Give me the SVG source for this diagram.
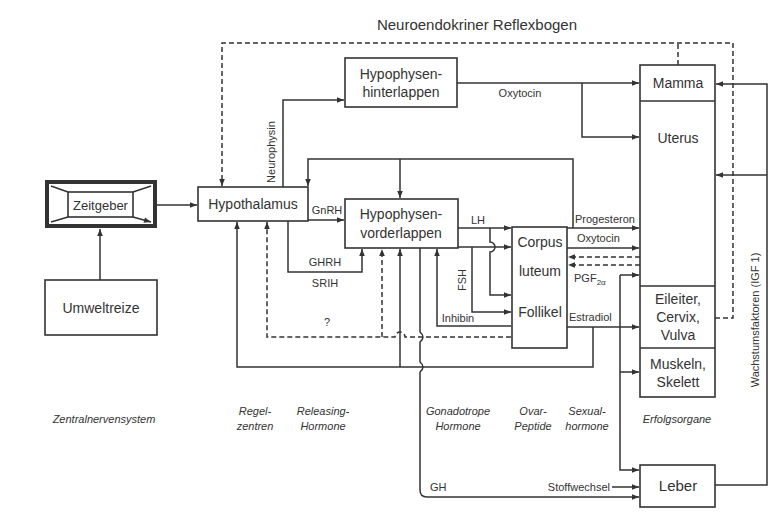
<svg xmlns="http://www.w3.org/2000/svg" width="776" height="516" viewBox="0 0 776 516">
<style>
.box{fill:#fff;stroke:#333;stroke-width:1.6}
.ln{fill:none;stroke:#333;stroke-width:1.5}
.ds{fill:none;stroke:#333;stroke-width:1.5;stroke-dasharray:5 3}
.t{font-family:"Liberation Sans",Arial,sans-serif;font-size:14px;fill:#333;text-anchor:middle}
.s{font-family:"Liberation Sans",Arial,sans-serif;font-size:11px;fill:#333}
.i{font-family:"Liberation Sans",Arial,sans-serif;font-size:11px;font-style:italic;fill:#333;text-anchor:middle}
</style>
<defs>
<marker id="a" viewBox="0 0 10 10" refX="10" refY="5" markerWidth="8" markerHeight="7" orient="auto" markerUnits="userSpaceOnUse"><path d="M0,1 L10,5 L0,9z" fill="#333"/></marker>
</defs>
<rect width="776" height="516" fill="#fff"/>
<text x="477" y="30" class="t" style="font-size:15px">Neuroendokriner Reflexbogen</text>

<g id="connectors">
<path class="ln" d="M100,280 V229" marker-end="url(#a)"/>
<path class="ln" d="M157,205 H197" marker-end="url(#a)"/>
<path class="ln" d="M283,187 V100 H344" marker-end="url(#a)"/>
<path class="ln" d="M457,83 H639" marker-end="url(#a)"/>
<path class="ln" d="M582,83 V137 H639" marker-end="url(#a)"/>
<path class="ds" d="M715,318 H733 V43 H222 V186" marker-end="url(#a)"/>
<path class="ds" d="M678,65 V43"/>
<path class="ln" d="M573,228 V159 H308 V186" marker-end="url(#a)"/>
<path class="ln" d="M400,159 V198" marker-end="url(#a)"/>
<path class="ln" d="M308,220 H344" marker-end="url(#a)"/>
<path class="ln" d="M288,221 V272 H362 V249" marker-end="url(#a)"/>
<path class="ln" d="M593,327 V367 H237 V222" marker-end="url(#a)"/>
<path class="ln" d="M400,367 V249" marker-end="url(#a)"/>
<path class="ds" d="M538,292 V337 H405 a5,5 0 0 0 -10,0 H267 V222" marker-end="url(#a)"/>
<path class="ds" d="M382,337 V249" marker-end="url(#a)"/>
<path class="ln" d="M420,248 V332 q6,5 0,10 V362 q6,5 0,10 V490 Q420,497 427,497 H639" marker-end="url(#a)"/>
<path class="ln" d="M511,326 H437 V249" marker-end="url(#a)"/>
<path class="ln" d="M458,247 H511" marker-end="url(#a)"/>
<path class="ln" d="M472,247 V312 H511" marker-end="url(#a)"/>
<path class="ln" d="M458,228 H511" marker-end="url(#a)"/>
<path class="ln" d="M490,228 V242 a5,5 0 0 1 0,10 V295 H511" marker-end="url(#a)"/>
<path class="ln" d="M567,228 H639" marker-end="url(#a)"/>
<path class="ln" d="M567,248 H639" marker-end="url(#a)"/>
<path class="ds" d="M640,257 H568" marker-end="url(#a)"/>
<path class="ds" d="M640,265 H568" marker-end="url(#a)"/>
<path class="ln" d="M567,327 H639" marker-end="url(#a)"/>
<path class="ln" d="M620,275 H639" marker-end="url(#a)"/>
<path class="ln" d="M620,275 V470 H639" marker-end="url(#a)"/>
<path class="ln" d="M620,372 H639" marker-end="url(#a)"/>
<path class="ln" d="M612,487 H639" marker-end="url(#a)"/>
<path class="ln" d="M715,485 H767 V84 H716" marker-end="url(#a)"/>
<path class="ln" d="M767,175 H716" marker-end="url(#a)"/>
<path class="ln" d="M520,288 V304" marker-end="url(#a)"/>
<path class="ln" d="M555,304 V289" marker-end="url(#a)"/>
</g>

<g id="zeitgeber">
<rect x="47" y="182" width="108" height="44" fill="#fff" stroke="#333" stroke-width="4"/>
<rect x="68" y="192" width="65" height="25" class="box"/>
<path class="ln" d="M68,192 L51,186 M133,192 L151,186 M68,217 L51,222 M133,217 L151,222" marker-end="url(#a)"/>
<text x="100.5" y="210" class="t" style="font-size:13px">Zeitgeber</text>
</g>
<g id="umweltreize">
<rect x="45" y="280" width="112" height="55" class="box"/>
<text x="101" y="313" class="t">Umweltreize</text>
</g>
<g id="hypothalamus">
<rect x="198" y="187" width="110" height="34" class="box"/>
<text x="253" y="209" class="t">Hypothalamus</text>
</g>
<g id="hinterlappen">
<rect x="345" y="58" width="112" height="49" class="box"/>
<text x="401" y="79" class="t">Hypophysen-</text>
<text x="401" y="97" class="t">hinterlappen</text>
</g>
<g id="vorderlappen">
<rect x="345" y="199" width="113" height="49" class="box"/>
<text x="401" y="219" class="t">Hypophysen-</text>
<text x="401" y="238" class="t">vorderlappen</text>
</g>
<g id="ovar">
<rect x="512" y="227" width="55" height="121" class="box"/>
<text x="540" y="247" class="t">Corpus</text>
<text x="540" y="276" class="t">luteum</text>
<text x="540" y="317" class="t">Follikel</text>
</g>
<g id="erfolgsorgane">
<rect x="640" y="65" width="75" height="332" class="box"/>
<path class="ln" d="M640,101 H715 M640,286 H715 M640,348 H715"/>
<text x="678" y="88" class="t">Mamma</text>
<text x="678" y="143" class="t">Uterus</text>
<text x="678" y="304" class="t">Eileiter,</text>
<text x="678" y="322" class="t">Cervix,</text>
<text x="678" y="340" class="t">Vulva</text>
<text x="678" y="369" class="t">Muskeln,</text>
<text x="678" y="387" class="t">Skelett</text>
</g>
<g id="leber">
<rect x="640" y="465" width="75" height="42" class="box"/>
<text x="678" y="491" class="t" style="font-size:15px">Leber</text>
</g>

<g id="labels">
<text x="520" y="97" class="s" text-anchor="middle">Oxytocin</text>
<text transform="translate(275,152) rotate(-90)" class="s" text-anchor="middle">Neurophysin</text>
<text x="327" y="214" class="s" text-anchor="middle">GnRH</text>
<text x="325" y="266" class="s" text-anchor="middle">GHRH</text>
<text x="325" y="287" class="s" text-anchor="middle">SRIH</text>
<text x="327" y="326" class="s" text-anchor="middle">?</text>
<text x="478" y="224" class="s" text-anchor="middle">LH</text>
<text transform="translate(466,280) rotate(-90)" class="s" text-anchor="middle">FSH</text>
<text x="458" y="322" class="s" text-anchor="middle">Inhibin</text>
<text x="575" y="223" class="s">Progesteron</text>
<text x="577" y="242" class="s">Oxytocin</text>
<text x="574" y="282" class="s">PGF<tspan font-size="8" dy="3">2α</tspan></text>
<text x="569" y="321" class="s">Estradiol</text>
<text x="430" y="491" class="s">GH</text>
<text x="610" y="491" class="s" text-anchor="end">Stoffwechsel</text>
<text transform="translate(759,320) rotate(-90)" class="s" text-anchor="middle" font-size="13">Wachstumsfaktoren (IGF 1)</text>
<text x="104" y="423" class="i">Zentralnervensystem</text>
<text x="255" y="415" class="i">Regel-</text>
<text x="255" y="430" class="i">zentren</text>
<text x="323" y="415" class="i">Releasing-</text>
<text x="323" y="430" class="i">Hormone</text>
<text x="458" y="415" class="i">Gonadotrope</text>
<text x="458" y="430" class="i">Hormone</text>
<text x="533" y="415" class="i">Ovar-</text>
<text x="533" y="430" class="i">Peptide</text>
<text x="587" y="415" class="i">Sexual-</text>
<text x="587" y="430" class="i">hormone</text>
<text x="677" y="423" class="i">Erfolgsorgane</text>
</g>
</svg>
